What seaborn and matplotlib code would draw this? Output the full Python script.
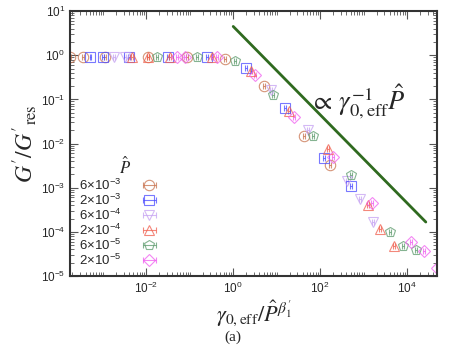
import numpy as np
import seaborn as sns
import matplotlib.pyplot as plt
from matplotlib.ticker import LogLocator, NullFormatter, FixedLocator

# Data (x = gamma_0,eff / P^beta, y = G'/G'_res)
labels = ["6×10$^{\\mathdefault{-3}}$", "2×10$^{\\mathdefault{-3}}$", "6×10$^{\\mathdefault{-4}}$",
          "2×10$^{\\mathdefault{-4}}$", "6×10$^{\\mathdefault{-5}}$", "2×10$^{\\mathdefault{-5}}$"]

x_6e3 = [1.74e-4, 3.47e-4, 1.12e-3, 1.12e-2, 8.7e-2, 0.66, 5.1, 42.7, 170]
y_6e3 = [0.92, 0.92, 0.92, 0.92, 0.92, 0.82, 0.20, 0.0148, 0.0033]

x_2e3 = [5.2e-4, 1.0e-3, 4.0e-3, 3.2e-2, 0.25, 2.0, 15.8, 123, 513]
y_2e3 = [0.92, 0.92, 0.92, 0.92, 0.90, 0.51, 0.065, 4.7e-3, 1.1e-3]

x_6e4 = [1.8e-3, 3.3e-3, 7.4, 52.5, 407, 832, 1620]
y_6e4 = [0.92, 0.92, 0.166, 0.020, 1.45e-3, 5.6e-4, 1.7e-4]

x_2e4 = [4.8e-3, 1.12e-2, 3.5e-2, 0.32, 2.57, 19.5, 151, 1260, 2400, 5000]
y_2e4 = [0.92, 0.92, 0.92, 0.92, 0.43, 0.054, 7.4e-3, 4.0e-4, 1.17e-4, 4.8e-5]

x_6e5 = [1.78e-2, 0.148, 1.12, 8.3, 67.6, 513, 4070, 8130, 16200]
y_6e5 = [0.92, 0.90, 0.74, 0.123, 0.0151, 1.9e-3, 9.8e-5, 4.9e-5, 3.8e-5]

x_2e5 = [5.1e-2, 7.9e-2, 0.43, 3.2, 25.1, 200, 1550, 12300, 24500, 47900]
y_2e5 = [0.92, 0.92, 0.90, 0.35, 0.040, 4.9e-3, 4.6e-4, 5.9e-5, 3.6e-5, 1.5e-5]

# guide line  y = 4.5 / x
line_x = [1.0, 2.7e4]
line_y = [4.5, 4.5 / 2.7e4]

xticks = [1e-2, 1, 1e2, 1e4]

series = [(x_6e3, y_6e3), (x_2e3, y_2e3), (x_6e4, y_6e4),
          (x_2e4, y_2e4), (x_6e5, y_6e5), (x_2e5, y_2e5)]
colors = ["#c8714c", "#4b4bff", "#c6a2f2", "#f0604f", "#5c9a6c", "#f05ef0"]
markers = ["o", "s", "v", "^", "p", "D"]
msizes = [7.5, 7.5, 7.5, 7.5, 7.5, 6]

sns.set_theme(style="ticks")
plt.rcParams['font.family'] = ['Liberation Sans', 'DejaVu Sans']
plt.rcParams['mathtext.fontset'] = 'stix'

fig = plt.figure(figsize=(4.63, 3.48), dpi=100)
ax = fig.add_axes([0.151, 0.207, 0.793, 0.761])

for (xs, ys), lab, c, m, ms in zip(series, labels, colors, markers, msizes):
    xs = np.array(xs)
    ax.errorbar(xs, ys, xerr=[xs * 0.05, xs * 0.05], fmt=m, color=c, ms=ms,
                mfc="none", mec=c, mew=0.8, elinewidth=0.8, capsize=2,
                label=lab, alpha=0.75)

ax.plot(line_x, line_y, color="#2f6a1f", lw=2)

ax.set_xscale("log")
ax.set_yscale("log")
ax.set_xlim(1.75e-4, 4.9e4)
ax.set_ylim(1e-5, 10)

ax.xaxis.set_major_locator(FixedLocator(xticks))
ax.xaxis.set_minor_locator(LogLocator(base=10, subs=np.arange(1, 10), numticks=50))
ax.xaxis.set_minor_formatter(NullFormatter())
ax.yaxis.set_major_locator(LogLocator(base=10, numticks=20))
ax.yaxis.set_minor_locator(LogLocator(base=10, subs=np.arange(2, 10), numticks=50))
ax.yaxis.set_minor_formatter(NullFormatter())

ax.tick_params(which="both", direction="in", top=True, right=True, labelsize=8.5,
               color="#555555")
ax.tick_params(which="major", length=6, width=0.8)
ax.tick_params(which="minor", length=3, width=0.6)
for s in ax.spines.values():
    s.set_linewidth(1.5)
    s.set_color("#333333")

ax.set_ylabel(r"$G'/G'_{\rm res}$", fontsize=17, labelpad=1)
ax.set_xlabel(r"$\gamma_{0,\rm eff}/\hat{P}^{\beta_1'}$", fontsize=16, labelpad=2)
fig.text(0.503, 0.02, "(a)", family="Liberation Serif", fontsize=11, ha="center")

ax.text(0.655, 0.625, r"$\propto\,\gamma_{0,\rm eff}^{-1}\hat{P}$", transform=ax.transAxes,
        fontsize=19)

leg = ax.legend(loc="lower left", bbox_to_anchor=(0.0, -0.005), frameon=False,
                markerfirst=False, title=r"$\hat{P}$", fontsize=9.5,
                handlelength=3.2, labelspacing=0.0, handletextpad=0.5,
                borderaxespad=0.3)
leg.get_title().set_fontsize(12)

fig.savefig("out.png", dpi=100)
